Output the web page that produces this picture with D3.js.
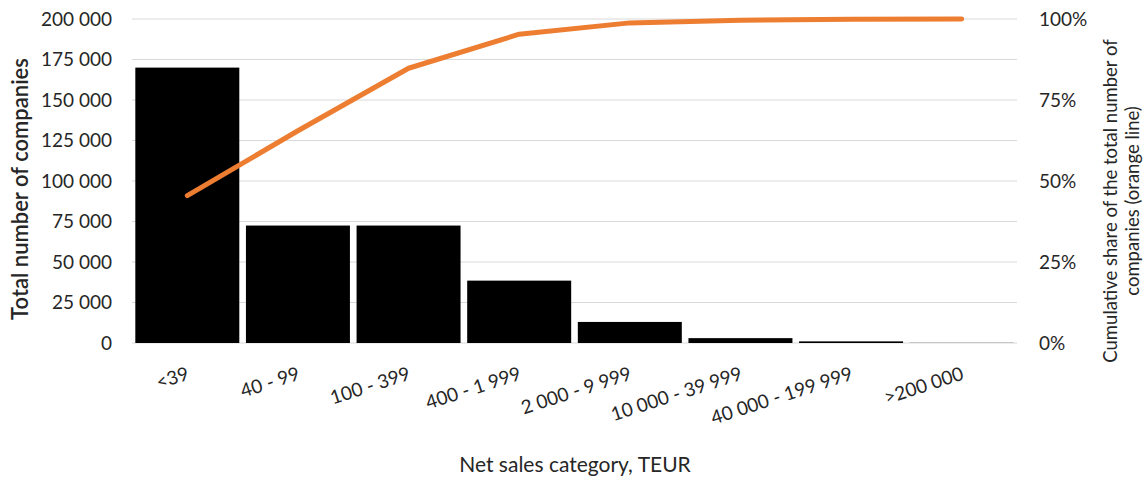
<!DOCTYPE html>
<html>
<head>
<meta charset="utf-8">
<script src="https://cdn.jsdelivr.net/npm/d3@7"></script>
<style>
  body { margin: 0; background: #fff; }
  text { font-family: Lato, "Open Sans", sans-serif; fill: #262626; }
</style>
</head>
<body>
<svg id="chart" width="1147" height="480"></svg>
<script>
// data
var categories = ["<39", "40 - 99", "100 - 399", "400 - 1 999", "2 000 - 9 999",
  "10 000 - 39 999", "40 000 - 199 999", ">200 000"];
var companies = [170000, 72500, 72500, 38500, 13000, 3000, 1000, 100];
var cumulativeShare = [0.455, 0.655, 0.848, 0.953, 0.988, 0.996, 0.999, 1.0];
var leftTicks = [0, 25000, 50000, 75000, 100000, 125000, 150000, 175000, 200000];
var rightTicks = [0, 0.25, 0.5, 0.75, 1.0];

var margin = { top: 19, right: 130, bottom: 137, left: 132 };
var width = 1147 - margin.left - margin.right;
var height = 480 - margin.top - margin.bottom;

var svg = d3.select("#chart");
var g = svg.append("g")
  .attr("transform", "translate(" + margin.left + "," + margin.top + ")");

var x = d3.scaleBand().domain(categories).range([0, width]).paddingInner(0.06).paddingOuter(0.03);
var y = d3.scaleLinear().domain([0, 200000]).range([height, 0]);
var y2 = d3.scaleLinear().domain([0, 1]).range([height, 0]);

var fmt = function (d) { return d3.format(",")(d).replace(/,/g, " "); };

// gridlines
g.selectAll(".grid").data(leftTicks).enter().append("line")
  .attr("x1", 0).attr("x2", width)
  .attr("y1", function (d) { return y(d); })
  .attr("y2", function (d) { return y(d); })
  .attr("stroke", "#d9d9d9").attr("stroke-width", 1);

// bars
g.selectAll(".bar").data(companies).enter().append("rect")
  .attr("x", function (d, i) { return x(categories[i]); })
  .attr("width", x.bandwidth())
  .attr("y", function (d) { return y(d); })
  .attr("height", function (d) { return height - y(d); })
  .attr("fill", "#000");

// cumulative line
var line = d3.line()
  .x(function (d, i) { return x(categories[i]) + x.bandwidth() / 2; })
  .y(function (d) { return y2(d); });
g.append("path").datum(cumulativeShare)
  .attr("d", line)
  .attr("fill", "none")
  .attr("stroke", "#ED7D31")
  .attr("stroke-width", 5)
  .attr("stroke-linecap", "round")
  .attr("stroke-linejoin", "round");

// left axis
var yAxis = g.append("g")
  .call(d3.axisLeft(y).tickValues(leftTicks).tickFormat(fmt).tickSize(0).tickPadding(20));
yAxis.select(".domain").remove();
yAxis.selectAll("text").style("font-size", "19px").style("font-family", "Lato, sans-serif").attr("fill", "#262626");

// right axis
var yAxis2 = g.append("g").attr("transform", "translate(" + width + ",0)")
  .call(d3.axisRight(y2).tickValues(rightTicks).tickFormat(d3.format(".0%")).tickSize(0).tickPadding(22));
yAxis2.select(".domain").remove();
yAxis2.selectAll("text").style("font-size", "19px").style("font-family", "Lato, sans-serif").attr("fill", "#262626");

// x labels
g.selectAll(".xlab").data(categories).enter().append("text")
  .attr("transform", function (d) {
    return "translate(" + (x(d) + x.bandwidth() / 2 + 3) + "," + (height + 36) + ") rotate(-18)";
  })
  .attr("text-anchor", "end")
  .style("font-size", "19px")
  .text(function (d) { return d; });

// axis titles
svg.append("text")
  .attr("transform", "translate(28," + (margin.top + height / 2 + 8) + ") rotate(-90)")
  .attr("text-anchor", "middle")
  .style("font-size", "22px")
  .style("font-weight", "600")
  .text("Total number of companies");

var t2 = svg.append("text")
  .attr("transform", "translate(1117," + (margin.top + height / 2 + 20) + ") rotate(-90)")
  .attr("text-anchor", "middle")
  .style("font-size", "18.5px");
t2.append("tspan").attr("x", 0).attr("dy", 0).text("Cumulative share of the total number of");
t2.append("tspan").attr("x", 0).attr("dy", 22).text("companies (orange line)");

svg.append("text")
  .attr("x", 575)
  .attr("y", 472)
  .attr("text-anchor", "middle")
  .style("font-size", "21px")
  .text("Net sales category, TEUR");
</script>
</body>
</html>
